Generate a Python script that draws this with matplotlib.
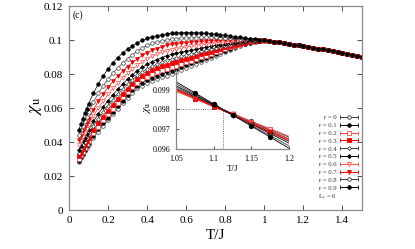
import matplotlib

matplotlib.use("Agg")
import matplotlib.pyplot as plt
import numpy as np
from matplotlib.collections import LineCollection
from matplotlib.container import ErrorbarContainer
from matplotlib.legend_handler import HandlerErrorbar
from matplotlib.lines import Line2D
from matplotlib.ticker import FuncFormatter

plt.rcParams["font.family"] = "serif"
plt.rcParams["font.serif"] = ["Liberation Serif", "DejaVu Serif"]
plt.rcParams["mathtext.fontset"] = "stix"

# ---- data ----
r_labels = ["r = 0", "r = 0.1", "r = 0.2", "r = 0.3", "r = 0.4",
            "r = 0.5", "r = 0.6", "r = 0.7", "r = 0.8", "r = 0.9"]

T_head = [0.05, 0.06, 0.07, 0.08, 0.09, 0.1,
          0.125, 0.15, 0.175, 0.2,
          0.225, 0.25, 0.275, 0.3, 0.325, 0.35,
          0.375, 0.4, 0.425, 0.45, 0.475, 0.5,
          0.525, 0.55, 0.575, 0.6,
          0.625, 0.65, 0.675, 0.7, 0.725, 0.75,
          0.775, 0.8, 0.825, 0.85,
          0.875, 0.9,
          0.925, 0.95, 0.975, 1.0]
T_tail = [1.025, 1.05, 1.075, 1.1, 1.125, 1.15, 1.175, 1.2, 1.225, 1.25,
          1.275, 1.3, 1.325, 1.35, 1.375, 1.4, 1.425, 1.45, 1.475, 1.5]
# all r collapse on one curve above T/J ~ 1
chi_tail = [0.0995, 0.0990, 0.0986, 0.0981, 0.0977, 0.0972, 0.0968, 0.0964, 0.0959, 0.0955,
            0.0950, 0.0945, 0.0940, 0.0934, 0.0929, 0.0923, 0.0918, 0.0912, 0.0907, 0.0901]

chi_r00 = [0.0285, 0.0305, 0.0325, 0.0345, 0.0365, 0.0385,
           0.0424, 0.0461, 0.0496, 0.0528,
           0.0563, 0.0597, 0.0629, 0.0660, 0.0688, 0.0715,
           0.0732, 0.0747, 0.0760, 0.0771, 0.0781, 0.0790,
           0.0802, 0.0814, 0.0826, 0.0838,
           0.0849, 0.0860, 0.0872, 0.0883, 0.0894, 0.0905,
           0.0918, 0.0931, 0.0943, 0.0955,
           0.0965, 0.0975,
           0.0983, 0.0989, 0.0994, 0.0997]
chi_r01 = [0.0290, 0.0311, 0.0332, 0.0353, 0.0374, 0.0395,
           0.0436, 0.0475, 0.0510, 0.0543,
           0.0578, 0.0612, 0.0644, 0.0674, 0.0703, 0.0730,
           0.0749, 0.0765, 0.0778, 0.0790, 0.0800, 0.0810,
           0.0820, 0.0831, 0.0842, 0.0852,
           0.0863, 0.0874, 0.0885, 0.0895, 0.0906, 0.0916,
           0.0927, 0.0938, 0.0949, 0.0959,
           0.0968, 0.0977,
           0.0984, 0.0990, 0.0994, 0.0997]
chi_r02 = [0.0300, 0.0322, 0.0344, 0.0366, 0.0387, 0.0408,
           0.0451, 0.0491, 0.0528, 0.0562,
           0.0597, 0.0631, 0.0663, 0.0693, 0.0721, 0.0748,
           0.0768, 0.0785, 0.0800, 0.0812, 0.0822, 0.0832,
           0.0841, 0.0850, 0.0859, 0.0868,
           0.0878, 0.0888, 0.0898, 0.0908, 0.0918, 0.0928,
           0.0938, 0.0947, 0.0956, 0.0964,
           0.0972, 0.0980,
           0.0986, 0.0991, 0.0994, 0.0997]
chi_r03 = [0.0315, 0.0337, 0.0359, 0.0381, 0.0403, 0.0425,
           0.0470, 0.0511, 0.0549, 0.0585,
           0.0620, 0.0653, 0.0685, 0.0714, 0.0742, 0.0768,
           0.0789, 0.0806, 0.0821, 0.0834, 0.0845, 0.0855,
           0.0864, 0.0873, 0.0881, 0.0888,
           0.0897, 0.0906, 0.0915, 0.0923, 0.0932, 0.0940,
           0.0948, 0.0956, 0.0963, 0.0970,
           0.0977, 0.0983,
           0.0988, 0.0992, 0.0995, 0.0998]
chi_r04 = [0.0335, 0.0357, 0.0380, 0.0402, 0.0424, 0.0445,
           0.0494, 0.0537, 0.0576, 0.0612,
           0.0647, 0.0680, 0.0711, 0.0740, 0.0767, 0.0792,
           0.0813, 0.0830, 0.0845, 0.0858, 0.0870, 0.0880,
           0.0888, 0.0896, 0.0903, 0.0910,
           0.0918, 0.0925, 0.0933, 0.0940, 0.0947, 0.0954,
           0.0960, 0.0966, 0.0972, 0.0977,
           0.0982, 0.0987,
           0.0991, 0.0994, 0.0996, 0.0998]
chi_r05 = [0.0355, 0.0379, 0.0403, 0.0426, 0.0448, 0.0470,
           0.0521, 0.0566, 0.0606, 0.0643,
           0.0678, 0.0711, 0.0742, 0.0770, 0.0796, 0.0820,
           0.0840, 0.0857, 0.0872, 0.0885, 0.0897, 0.0908,
           0.0915, 0.0922, 0.0928, 0.0933,
           0.0939, 0.0945, 0.0951, 0.0957, 0.0963, 0.0968,
           0.0973, 0.0977, 0.0981, 0.0985,
           0.0988, 0.0991,
           0.0993, 0.0995, 0.0997, 0.0998]
chi_r06 = [0.0380, 0.0405, 0.0430, 0.0454, 0.0477, 0.0500,
           0.0553, 0.0600, 0.0642, 0.0680,
           0.0715, 0.0747, 0.0776, 0.0803, 0.0828, 0.0852,
           0.0872, 0.0889, 0.0903, 0.0916, 0.0927, 0.0937,
           0.0943, 0.0949, 0.0954, 0.0958,
           0.0963, 0.0967, 0.0971, 0.0975, 0.0979, 0.0983,
           0.0986, 0.0989, 0.0991, 0.0993,
           0.0995, 0.0996,
           0.0997, 0.0998, 0.0999, 0.0999]
chi_r07 = [0.0410, 0.0437, 0.0463, 0.0488, 0.0512, 0.0535,
           0.0591, 0.0640, 0.0683, 0.0722,
           0.0757, 0.0789, 0.0818, 0.0844, 0.0868, 0.0890,
           0.0909, 0.0925, 0.0939, 0.0950, 0.0960, 0.0968,
           0.0974, 0.0979, 0.0982, 0.0985,
           0.0988, 0.0990, 0.0992, 0.0994, 0.0996, 0.0998,
           0.0999, 0.1000, 0.1001, 0.1001,
           0.1001, 0.1001,
           0.1000, 0.1000, 0.0999, 0.0999]
chi_r08 = [0.0440, 0.0469, 0.0497, 0.0524, 0.0550, 0.0575,
           0.0634, 0.0686, 0.0731, 0.0770,
           0.0805, 0.0836, 0.0864, 0.0889, 0.0913, 0.0935,
           0.0954, 0.0969, 0.0980, 0.0989, 0.0995, 0.1000,
           0.1004, 0.1007, 0.1010, 0.1012,
           0.1013, 0.1014, 0.1015, 0.1015, 0.1015, 0.1015,
           0.1014, 0.1013, 0.1012, 0.1010,
           0.1008, 0.1006,
           0.1004, 0.1002, 0.1001, 0.0999]
chi_r09 = [0.0470, 0.0504, 0.0537, 0.0568, 0.0597, 0.0625,
           0.0688, 0.0742, 0.0789, 0.0830,
           0.0866, 0.0897, 0.0924, 0.0947, 0.0967, 0.0984,
           0.0998, 0.1009, 0.1018, 0.1025, 0.1031, 0.1035,
           0.1039, 0.1042, 0.1043, 0.1044,
           0.1044, 0.1043, 0.1041, 0.1039, 0.1037, 0.1034,
           0.1031, 0.1027, 0.1024, 0.1020,
           0.1016, 0.1012,
           0.1008, 0.1005, 0.1002, 0.0999]
chi_heads = [chi_r00, chi_r01, chi_r02, chi_r03, chi_r04,
             chi_r05, chi_r06, chi_r07, chi_r08, chi_r09]

# inset: points around the crossing
inset_T = [1.075, 1.1, 1.125, 1.15, 1.175]
inset_chi = [
    [0.09858, 0.09821, 0.09778, 0.09741, 0.09699],
    [0.09862, 0.09822, 0.09777, 0.09736, 0.09693],
    [0.09851, 0.09818, 0.09779, 0.09739, 0.09702],
    [0.09853, 0.09815, 0.09776, 0.09732, 0.09688],
    [0.09867, 0.09823, 0.09776, 0.09731, 0.09684],
    [0.09872, 0.09825, 0.09774, 0.09726, 0.09679],
    [0.09858, 0.09817, 0.09775, 0.09734, 0.09692],
    [0.09861, 0.09816, 0.09774, 0.09729, 0.09686],
    [0.09878, 0.09826, 0.09773, 0.09721, 0.09668],
    [0.09884, 0.09829, 0.09772, 0.09716, 0.09660],
]
T_cross = 1.112
chi_cross = 0.098

# styles (gnuplot-like point types)
GRAY = "#3a3a3a"
BLACK = "#000000"
LRED = "#ff4a4a"
RED = "#ee0000"
styles = [
    (GRAY, "o", False), (BLACK, "o", True),
    (LRED, "s", False), (RED, "s", True),
    (GRAY, "D", False), (BLACK, "D", True),
    (LRED, "v", False), (RED, "v", True),
    (GRAY, "o", False), (BLACK, "o", True),
]
msizes = {"o": 2.6, "s": 2.4, "D": 2.0, "v": 2.8}

SPINE = "#888888"


def style_axes(ax, size):
    for sp in ax.spines.values():
        sp.set_color(SPINE)
        sp.set_linewidth(0.9)
    ax.tick_params(direction="in", length=3.5, width=0.6, color="#333333",
                   labelsize=size)


fig = plt.figure(figsize=(4.15, 2.49), dpi=100)
ax = fig.add_axes([0.1663, 0.1566, 0.706, 0.8193])

T_all = np.array(T_head + T_tail)
for (color, m, filled), head in zip(styles, chi_heads):
    chi = np.array(head + chi_tail)
    ax.plot(T_all, chi, color=color, lw=0.5, marker=m, ms=msizes[m],
            mfc=color if filled else "white", mec=color, mew=0.5)

ax.set_xlim(0, 1.5)
ax.set_ylim(0, 0.12)
ax.set_xticks(np.arange(0, 1.41, 0.2))
ax.set_yticks(np.arange(0, 0.121, 0.02))
fmt = FuncFormatter(lambda v, p: "%g" % round(v, 6))
ax.xaxis.set_major_formatter(fmt)
ax.yaxis.set_major_formatter(fmt)
style_axes(ax, 8)
ax.tick_params(top=True, right=True, pad=4.5)
ax.set_xlabel("T/J", fontsize=11, labelpad=3)
ax.set_ylabel(r"$\chi_{\rm u}$", fontsize=13)
ax.yaxis.set_label_coords(-0.085, 0.51)
ax.text(0.014, 0.955, "(c)", transform=ax.transAxes, fontsize=7,
        ha="left", va="center")

# legend with gnuplot-style error-bar samples
handles = []
for color, m, filled in styles:
    line = Line2D([], [], color=color, lw=0.6, marker=m, ms=msizes[m],
                  mfc=color if filled else "white", mec=color, mew=0.6)
    cap = Line2D([], [], color=color, marker="|", ms=3.0, mew=0.6)
    bar = LineCollection([], colors=color, linewidths=0.6)
    handles.append(ErrorbarContainer((line, (cap,), (bar,)),
                                     has_xerr=True, has_yerr=False))
handles.append(Line2D([], [], ls="none"))
labels = r_labels + [r"L$_y$ = 6"]
leg = ax.legend(handles, labels, loc="lower right",
                bbox_to_anchor=(0.985, 0.035), frameon=False, fontsize=4.8,
                markerfirst=False, handlelength=2.6, handletextpad=0.5,
                labelspacing=0.32, borderpad=0, borderaxespad=0,
                handler_map={ErrorbarContainer: HandlerErrorbar(xerr_size=1.3)})
for t in leg.get_texts():
    t.set_color("#333333")

# inset
axi = fig.add_axes([0.4241, 0.4016, 0.2723, 0.3173], facecolor="none")
x_fit = np.array([1.05, 1.2])
for (color, m, filled), pts in zip(styles, inset_chi):
    k, b = np.polyfit(inset_T, pts, 1)
    axi.plot(x_fit, k * x_fit + b, color=color, lw=0.6)
for (color, m, filled), pts in zip(styles, inset_chi):
    axi.plot(inset_T, pts, ls="none", marker=m, ms=msizes[m] + 0.6,
             mfc=color if filled else "white", mec=color, mew=0.6)
axi.plot([1.05, T_cross], [chi_cross, chi_cross], color="#444444", lw=0.6, ls=":")
axi.plot([T_cross, T_cross], [0.096, chi_cross], color="#444444", lw=0.6, ls=":")
axi.set_xlim(1.05, 1.2)
axi.set_ylim(0.096, 0.1)
axi.set_xticks([1.05, 1.1, 1.15, 1.2])
axi.set_yticks([0.096, 0.097, 0.098, 0.099])
axi.xaxis.set_major_formatter(fmt)
axi.yaxis.set_major_formatter(fmt)
axi.spines["top"].set_visible(False)
axi.spines["right"].set_visible(False)
style_axes(axi, 5.8)
axi.tick_params(length=2.5, pad=4)
axi.set_xlabel("T/J", fontsize=6.5, labelpad=2)
axi.set_ylabel(r"$\chi_{\rm u}$", fontsize=8)
axi.yaxis.set_label_coords(-0.2, 0.52)

fig.savefig("out.png", dpi=100)
